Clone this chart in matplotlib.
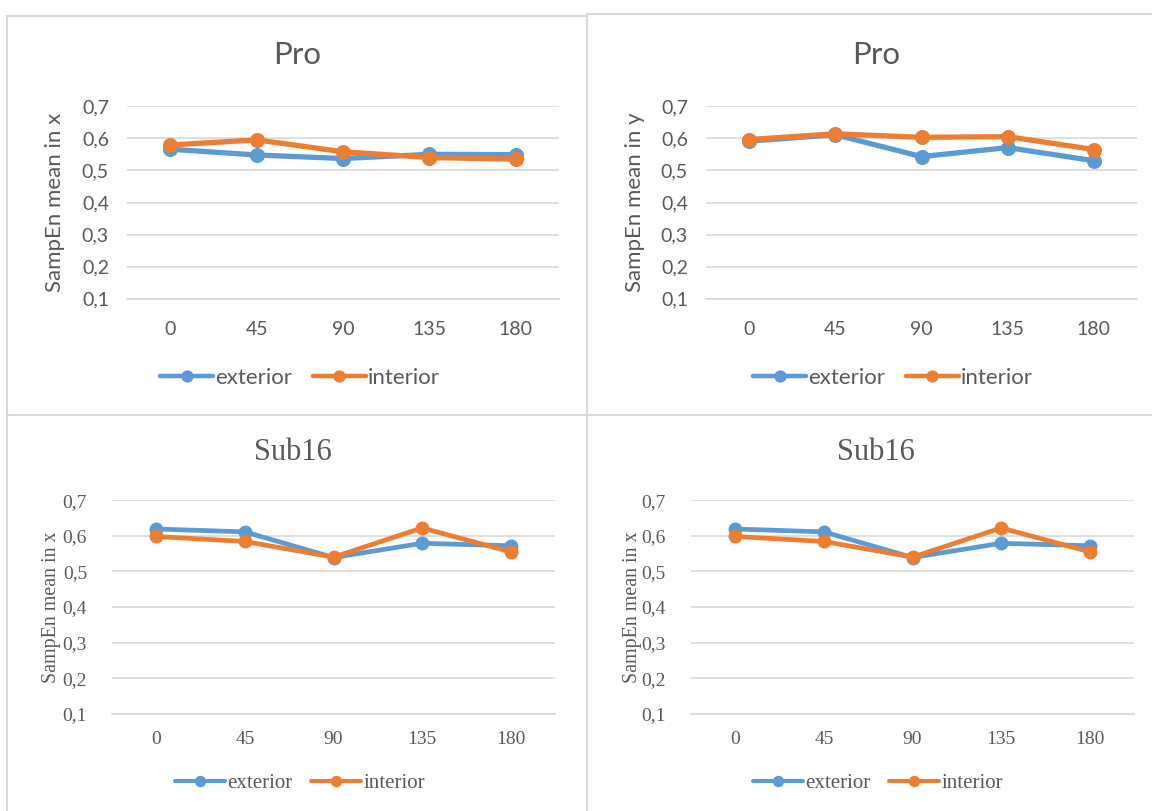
import matplotlib.pyplot as plt
from matplotlib.lines import Line2D

# SampEn means per angle, Pro and Sub16 recordings
angles = ['0', '45', '90', '135', '180']
pro_x_ext = [0.566, 0.548, 0.537, 0.550, 0.549]
pro_x_int = [0.579, 0.595, 0.558, 0.540, 0.535]
pro_y_ext = [0.591, 0.611, 0.543, 0.571, 0.530]
pro_y_int = [0.596, 0.614, 0.603, 0.605, 0.565]
sub_x_ext = [0.619, 0.611, 0.539, 0.579, 0.572]
sub_x_int = [0.598, 0.584, 0.540, 0.622, 0.555]

y_ticks = [0.1, 0.2, 0.3, 0.4, 0.5, 0.6, 0.7]
y_ticklabels = ['0,1', '0,2', '0,3', '0,4', '0,5', '0,6', '0,7']

BLUE = '#5B9BD5'
ORANGE = '#ED7D31'
GRID = '#D9D9D9'
TXT = '#595959'

W, H = 1152, 811
fig = plt.figure(figsize=(W / 100, H / 100), dpi=100)


def rect(l, r, t, b):
    return [l / W, 1 - b / H, (r - l) / W, (b - t) / H]


def panel(box, ext, inte, title, ylab, title_xy, ylab_xy, leg_xy, font, sizes, lw, ms, pads):
    ax = fig.add_axes(rect(*box))
    x = range(len(angles))
    ax.plot(x, ext, color=BLUE, lw=lw, marker='o', ms=ms, label='exterior',
            solid_capstyle='round', solid_joinstyle='round', clip_on=False)
    ax.plot(x, inte, color=ORANGE, lw=lw, marker='o', ms=ms, label='interior',
            solid_capstyle='round', solid_joinstyle='round', clip_on=False)
    ax.set_xlim(-0.5, len(angles) - 0.5)
    ax.set_ylim(0.0995, 0.7005)
    ax.set_yticks(y_ticks)
    ax.set_yticklabels(y_ticklabels)
    ax.set_xticks(list(x))
    ax.set_xticklabels(angles)
    ax.grid(axis='y', color=GRID, lw=1.2)
    ax.set_axisbelow(True)
    for s in ['top', 'right', 'left']:
        ax.spines[s].set_visible(False)
    ax.spines['bottom'].set_color(GRID)
    ax.spines['bottom'].set_linewidth(1.2)
    ax.tick_params(length=0, colors=TXT, labelsize=sizes[1])
    ax.tick_params(axis='y', pad=pads[0])
    ax.tick_params(axis='x', pad=pads[1])
    for t in ax.get_xticklabels() + ax.get_yticklabels():
        t.set_family(font)
    fig.text(title_xy[0] / W, 1 - title_xy[1] / H, title, ha='center', va='center',
             fontsize=sizes[0], color=TXT, family=font)
    fig.text(ylab_xy[0] / W, 1 - ylab_xy[1] / H, ylab, ha='center', va='center',
             rotation=90, fontsize=sizes[2], color=TXT, family=font)
    leg = ax.legend(loc='center', bbox_to_anchor=(leg_xy[0] / W, 1 - leg_xy[1] / H),
                    bbox_transform=fig.transFigure, ncol=2, frameon=False,
                    handlelength=2.4, handletextpad=0.1, columnspacing=0.9,
                    prop={'family': font, 'size': sizes[3]}, labelcolor=TXT)
    for h in leg.legend_handles:
        h.set_markersize(ms * 0.8)
        h.set_linewidth(lw * 0.85)
    return ax


sans = 'Lato'
serif = 'Liberation Serif'

panel((127, 559, 106, 299), pro_x_ext, pro_x_int, 'Pro', 'SampEn mean in x',
      (297, 55), (55, 202), (300, 378), sans, (22.5, 14, 16, 16), 3.8, 9.8, (13, 16))
panel((706, 1137, 106, 299), pro_y_ext, pro_y_int, 'Pro', 'SampEn mean in y',
      (876, 55), (635, 202), (893, 378), sans, (22.5, 14, 16, 16), 3.8, 9.8, (13, 16))
panel((112, 555, 500, 714), sub_x_ext, sub_x_int, 'Sub16', 'SampEn mean in x',
      (293, 452), (52, 607), (300, 783), serif, (22, 14, 14.4, 15), 3.4, 9, (18, 12))
panel((691, 1134, 500, 714), sub_x_ext, sub_x_int, 'Sub16', 'SampEn mean in x',
      (876, 452), (632, 607), (878, 783), serif, (22, 14, 14.4, 15), 3.4, 9, (18, 12))


# light frames around the four chart blocks
def frame(x0, y0, x1, y1):
    fig.add_artist(Line2D([x0 / W, x1 / W], [1 - y0 / H, 1 - y1 / H],
                          color=GRID, lw=1.5, transform=fig.transFigure))


frame(7, 16, 587, 16)
frame(587, 14, W, 14)
frame(7, 16, 7, H)
frame(587, 14, 587, H)
frame(7, 415, W, 415)

fig.savefig('out.png', dpi=100)
